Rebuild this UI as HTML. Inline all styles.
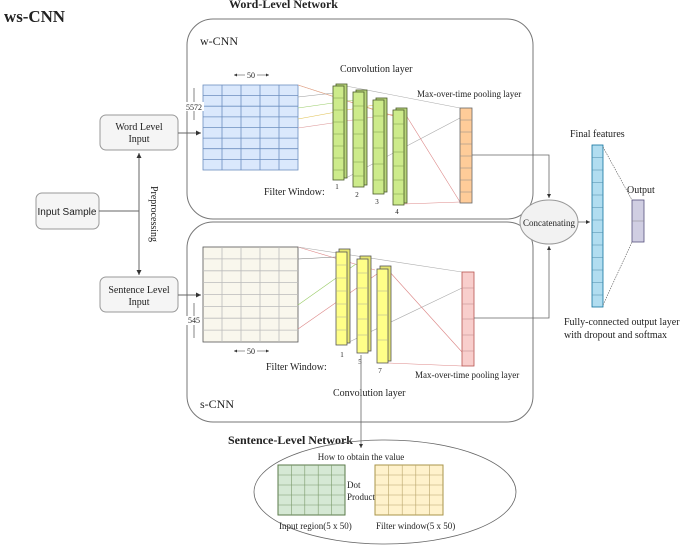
<!DOCTYPE html>
<html><head><meta charset="utf-8"><style>
html,body{margin:0;padding:0;background:#fff;}
svg{display:block;}
text{font-family:"Liberation Serif",serif;fill:#222;}
</style></head><body>
<svg width="685" height="546" viewBox="0 0 685 546" xmlns="http://www.w3.org/2000/svg">
<defs>
<marker id="a" markerWidth="6" markerHeight="6" refX="5" refY="3" orient="auto"><path d="M0,0.5 L5,3 L0,5.5 z" fill="#333"/></marker>
</defs>
<text x="4" y="22" font-size="17" font-weight="bold" textLength="61" lengthAdjust="spacingAndGlyphs">ws-CNN</text>
<text x="229" y="8" font-size="12" font-weight="bold">Word-Level Network</text>
<text x="228" y="444" font-size="12" font-weight="bold">Sentence-Level Network</text>

<!-- network boxes -->
<rect x="187" y="19" width="346" height="200" rx="26" fill="none" stroke="#777" stroke-width="1"/>
<rect x="187" y="222" width="346" height="200" rx="26" fill="none" stroke="#777" stroke-width="1"/>
<text x="200" y="45" font-size="12">w-CNN</text>
<text x="200" y="408" font-size="12">s-CNN</text>

<!-- left boxes -->
<rect x="100" y="115" width="78" height="35" rx="6" fill="#f5f5f5" stroke="#999"/>
<text x="139" y="130" font-size="10" text-anchor="middle">Word Level</text>
<text x="139" y="142" font-size="10" text-anchor="middle">Input</text>
<rect x="36" y="193" width="63" height="36" rx="6" fill="#f5f5f5" stroke="#999"/>
<text x="67" y="215" font-size="10" text-anchor="middle" style="font-family:'Liberation Sans',sans-serif">Input Sample</text>
<rect x="100" y="277" width="78" height="35" rx="6" fill="#f5f5f5" stroke="#999"/>
<text x="139" y="293" font-size="10" text-anchor="middle">Sentence Level</text>
<text x="139" y="305" font-size="10" text-anchor="middle">Input</text>
<line x1="99" y1="211" x2="139" y2="211" stroke="#666"/>
<line x1="139" y1="211" x2="139" y2="153" stroke="#666" marker-end="url(#a)"/>
<line x1="139" y1="211" x2="139" y2="275" stroke="#666" marker-end="url(#a)"/>
<text transform="translate(151,214) rotate(90)" font-size="10" text-anchor="middle">Preprocessing</text>
<line x1="178" y1="133" x2="201" y2="133" stroke="#666" marker-end="url(#a)"/>
<line x1="178" y1="295" x2="201" y2="295" stroke="#666" marker-end="url(#a)"/>

<!-- word grid -->
<g stroke="#6c8ebf" stroke-width="0.8">
<rect x="203" y="85" width="95" height="85" fill="#dae8fc" stroke="#6c8ebf"/>
<path d="M222,85V170M241,85V170M260,85V170M279,85V170M203,95.6H298M203,106.2H298M203,116.9H298M203,127.5H298M203,138.1H298M203,148.7H298M203,159.4H298" fill="none"/>
</g>
<line x1="251" y1="75" x2="234" y2="75" stroke="#333" stroke-width="0.6" marker-end="url(#a)"/>
<line x1="251" y1="75" x2="269" y2="75" stroke="#333" stroke-width="0.6" marker-end="url(#a)"/>
<rect x="245" y="70" width="12" height="9" fill="#fff"/>
<text x="251" y="78" font-size="8" text-anchor="middle">50</text>
<line x1="194" y1="88" x2="194" y2="120" stroke="#333" stroke-width="0.6"/>
<rect x="186" y="102" width="18" height="9" fill="#fff"/>
<text x="194" y="110" font-size="8" text-anchor="middle">5572</text>

<!-- word connectors -->
<g stroke-width="0.6" fill="none">
<line x1="298" y1="85" x2="394" y2="116" stroke="#e0b040"/>
<line x1="298" y1="85" x2="393" y2="116" stroke="#e0a0a0"/>
<line x1="298" y1="97" x2="334" y2="93" stroke="#999"/>
<line x1="298" y1="108" x2="354" y2="100" stroke="#9c6"/>
<line x1="298" y1="119" x2="374" y2="105" stroke="#e0c050"/>
<line x1="298" y1="128" x2="394" y2="114" stroke="#d99"/>
<line x1="346" y1="86" x2="460" y2="108" stroke="#aaa"/>
<line x1="346" y1="178" x2="460" y2="118" stroke="#aaa"/>
<line x1="404" y1="112" x2="460" y2="202" stroke="#d88"/>
<line x1="404" y1="204" x2="460" y2="202" stroke="#d88"/>
</g>

<!-- green maps -->
<g stroke="#4a5a2a" stroke-width="0.8">
<rect x="336" y="84" width="11" height="94" fill="#b9d67a"/>
<rect x="333" y="86" width="11" height="94" fill="#cdeb8b"/>
<rect x="356" y="90" width="11" height="95" fill="#b9d67a"/>
<rect x="353" y="92" width="11" height="95" fill="#cdeb8b"/>
<rect x="376" y="98" width="11" height="94" fill="#b9d67a"/>
<rect x="373" y="100" width="11" height="94" fill="#cdeb8b"/>
<rect x="396" y="108" width="11" height="95" fill="#b9d67a"/>
<rect x="393" y="110" width="11" height="95" fill="#cdeb8b"/>
</g>
<g stroke="#7a9a4a" stroke-width="0.5">
<path d="M333,98H344M333,110H344M333,122H344M333,134H344M333,146H344M333,158H344M333,170H344"/>
<path d="M353,106H364M353,120H364M353,134H364M353,148H364M353,162H364M353,176H364"/>
<path d="M373,116H384M373,132H384M373,148H384M373,164H384M373,180H384"/>
<path d="M393,124H404M393,138H404M393,152H404M393,166H404M393,180H404M393,194H404"/>
</g>
<g font-size="7" text-anchor="middle"><text x="337" y="189">1</text><text x="357" y="197">2</text><text x="377" y="204">3</text><text x="397" y="214">4</text></g>
<text x="340" y="72" font-size="10">Convolution layer</text>
<text x="417" y="97" font-size="9">Max-over-time pooling layer</text>
<text x="264" y="195" font-size="10">Filter Window:</text>

<!-- orange pool -->
<rect x="460" y="108" width="12" height="95" fill="#ffcc99" stroke="#666" stroke-width="0.8"/>
<path d="M460,120H472M460,132H472M460,144H472M460,156H472M460,168H472M460,180H472M460,192H472" stroke="#888" stroke-width="0.5"/>

<!-- sentence grid -->
<rect x="203" y="247" width="95" height="95" fill="#f9f7ed" stroke="#555" stroke-width="0.8"/>
<path d="M222,247V342M241,247V342M260,247V342M279,247V342M203,258.9H298M203,270.8H298M203,282.6H298M203,294.5H298M203,306.4H298M203,318.2H298M203,330.1H298" stroke="#bbb" stroke-width="0.8"/>
<line x1="251" y1="351" x2="234" y2="351" stroke="#333" stroke-width="0.6" marker-end="url(#a)"/>
<line x1="251" y1="351" x2="269" y2="351" stroke="#333" stroke-width="0.6" marker-end="url(#a)"/>
<rect x="245" y="346" width="12" height="9" fill="#fff"/>
<text x="251" y="354" font-size="8" text-anchor="middle">50</text>
<line x1="194" y1="303" x2="194" y2="338" stroke="#333" stroke-width="0.6"/>
<rect x="186" y="316" width="16" height="9" fill="#fff"/>
<text x="194" y="323" font-size="8" text-anchor="middle">545</text>

<g stroke-width="0.6" fill="none">
<line x1="298" y1="247" x2="375" y2="270" stroke="#d88"/>
<line x1="298" y1="259" x2="336" y2="257" stroke="#777"/>
<line x1="298" y1="305" x2="356" y2="264" stroke="#9c6"/>
<line x1="298" y1="329" x2="377" y2="274" stroke="#d88"/>
<line x1="298" y1="247" x2="462" y2="272" stroke="#aaa"/>
<line x1="347" y1="343" x2="462" y2="288" stroke="#aaa"/>
<line x1="388" y1="270" x2="462" y2="352" stroke="#d88"/>
<line x1="388" y1="363" x2="462" y2="366" stroke="#d88"/>
</g>
<g stroke="#555" stroke-width="0.8">
<rect x="339" y="249" width="11" height="94" fill="#e6e670"/>
<rect x="336" y="252" width="11" height="93" fill="#ffff88"/>
<rect x="360" y="256" width="11" height="95" fill="#e6e670"/>
<rect x="357" y="259" width="11" height="94" fill="#ffff88"/>
<rect x="380" y="266" width="11" height="95" fill="#e6e670"/>
<rect x="377" y="269" width="11" height="94" fill="#ffff88"/>
</g>
<g stroke="#aa9" stroke-width="0.5">
<path d="M336,265H347M336,278H347M336,291H347M336,304H347M336,317H347M336,330H347"/>
<path d="M357,273H368M357,288H368M357,304H368M357,319H368M357,335H368"/>
<path d="M377,291H388M377,315H388M377,340H388"/>
</g>
<g font-size="7" text-anchor="middle"><text x="342" y="357">1</text><text x="360" y="364">5</text><text x="380" y="373">7</text></g>
<rect x="462" y="272" width="12" height="94" fill="#f8cecc" stroke="#b85450" stroke-width="0.8"/>
<path d="M462,288H474M462,304H474M462,319H474M462,335H474M462,351H474" stroke="#b88" stroke-width="0.5"/>
<text x="415" y="378" font-size="9">Max-over-time pooling layer</text>
<text x="333" y="396" font-size="10">Convolution layer</text>
<text x="266" y="370" font-size="10">Filter Window:</text>

<!-- concat -->
<path d="M472,155H549V198" fill="none" stroke="#666" stroke-width="0.8" marker-end="url(#a)"/>
<path d="M474,318H549V246" fill="none" stroke="#666" stroke-width="0.8" marker-end="url(#a)"/>
<ellipse cx="549" cy="222" rx="29" ry="22" fill="#f2f2f2" stroke="#999"/>
<text x="549" y="226" font-size="9" text-anchor="middle">Concatenating</text>
<line x1="578" y1="222" x2="590" y2="222" stroke="#666" stroke-width="0.8" marker-end="url(#a)"/>

<rect x="592" y="145" width="11" height="162" fill="#b1ddf0" stroke="#10739e" stroke-width="0.8"/>
<path d="M592,157.5H603M592,170H603M592,182.5H603M592,195H603M592,207.5H603M592,220H603M592,232.5H603M592,245H603M592,257.5H603M592,270H603M592,282.5H603M592,295H603" stroke="#4a8aaa" stroke-width="0.5"/>
<rect x="632" y="200" width="12" height="42" fill="#d0cee2" stroke="#56517e" stroke-width="0.8"/>
<line x1="632" y1="221" x2="644" y2="221" stroke="#888" stroke-width="0.5"/>
<line x1="603" y1="147" x2="632" y2="200" stroke="#555" stroke-width="0.6" stroke-dasharray="1.5,1"/>
<line x1="603" y1="305" x2="632" y2="242" stroke="#555" stroke-width="0.6" stroke-dasharray="1.5,1"/>
<text x="570" y="137" font-size="10">Final features</text>
<text x="627" y="193" font-size="10">Output</text>
<text x="564" y="325" font-size="10">Fully-connected output layer</text>
<text x="564" y="338" font-size="10">with dropout and softmax</text>

<!-- dot product -->
<line x1="361" y1="355" x2="361" y2="448" stroke="#666" stroke-width="0.8" marker-end="url(#a)"/>
<ellipse cx="385" cy="492" rx="131" ry="52" fill="none" stroke="#666" stroke-width="0.8"/>
<text x="361" y="460" font-size="9" text-anchor="middle">How to obtain the value</text>
<rect x="278" y="465" width="67" height="50" fill="#d5e8d4" stroke="#5a7a4a"/>
<path d="M291.4,465V515M304.8,465V515M318.2,465V515M331.6,465V515M278,475H345M278,485H345M278,495H345M278,505H345" stroke="#7a9a6a" stroke-width="0.6"/>
<rect x="375" y="465" width="68" height="50" fill="#fff2cc" stroke="#a8944a"/>
<path d="M388.6,465V515M402.2,465V515M415.8,465V515M429.4,465V515M375,475H443M375,485H443M375,495H443M375,505H443" stroke="#b8a46a" stroke-width="0.6"/>
<text x="347" y="488" font-size="9">Dot</text>
<text x="347" y="500" font-size="9">Product</text>
<text x="279" y="529" font-size="9">Input region(5 x 50)</text>
<text x="376" y="529" font-size="9">Filter window(5 x 50)</text>
</svg>
</body></html>
